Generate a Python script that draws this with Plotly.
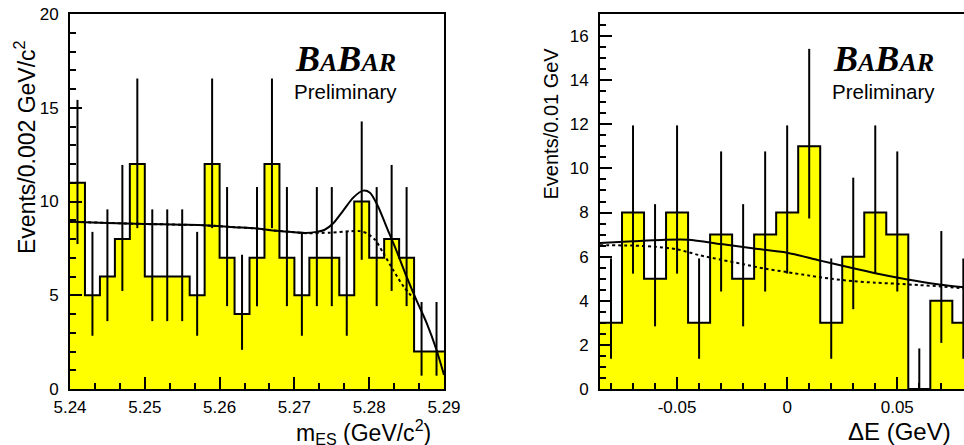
import plotly.graph_objects as go

# ---------------- data: left panel (m_ES) ----------------
mes_centers = [5.241, 5.243, 5.245, 5.247, 5.249, 5.251, 5.253, 5.255, 5.257, 5.259,
               5.261, 5.263, 5.265, 5.267, 5.269, 5.271, 5.273, 5.275, 5.277, 5.279,
               5.281, 5.283, 5.285, 5.287, 5.289]
mes_counts = [11, 5, 6, 8, 12, 6, 6, 6, 5, 12,
              7, 4, 7, 12, 7, 5, 7, 7, 5, 10,
              7, 8, 7, 2, 2]
mes_err_hi = [15.42, 8.38, 9.58, 11.95, 16.56, 9.58, 9.58, 9.58, 8.38, 16.56,
              10.77, 7.16, 10.77, 16.56, 10.77, 8.38, 10.77, 10.77, 8.38, 14.27,
              10.77, 11.95, 10.77, 4.64, 4.64]
mes_err_lo = [7.73, 2.84, 3.62, 5.23, 8.58, 3.62, 3.62, 3.62, 2.84, 8.58,
              4.42, 2.09, 4.42, 8.58, 4.42, 2.84, 4.42, 4.42, 2.84, 6.89,
              4.42, 5.23, 4.42, 0.71, 0.71]
mes_fit_x = [5.2400, 5.2450, 5.2500, 5.2550, 5.2580, 5.2620, 5.2647, 5.2676, 5.2700,
             5.2715, 5.2730, 5.2740, 5.2752, 5.2765, 5.2779, 5.2792, 5.2801, 5.2812,
             5.2823, 5.2837, 5.2850, 5.2863, 5.2877, 5.2890, 5.2900]
mes_fit_total = [8.92, 8.86, 8.80, 8.76, 8.73, 8.63, 8.57, 8.44, 8.36,
                 8.32, 8.38, 8.48, 8.84, 9.50, 10.22, 10.58, 10.47, 9.72,
                 8.66, 7.32, 5.99, 4.75, 3.50, 2.08, 0.75]
mes_bkg_x = [5.2400, 5.2450, 5.2500, 5.2550, 5.2580, 5.2620, 5.2647, 5.2676, 5.2700,
             5.2715, 5.2748, 5.2774, 5.2787, 5.2797, 5.2808, 5.2819, 5.2832, 5.2846, 5.2860]
mes_bkg = [8.92, 8.86, 8.80, 8.76, 8.73, 8.63, 8.57, 8.44, 8.36,
           8.31, 8.34, 8.41, 8.42, 8.30, 7.95, 7.24, 6.35, 5.46, 4.80]
mes_xticks = [5.24, 5.25, 5.26, 5.27, 5.28, 5.29]
mes_xtick_text = ["5.24", "5.25", "5.26", "5.27", "5.28", "5.29"]
mes_yticks = [0, 5, 10, 15, 20]
mes_ytick_text = ["0", "5", "10", "15", "20"]

# ---------------- data: right panel (Delta E) ----------------
de_centers = [-0.08, -0.07, -0.06, -0.05, -0.04, -0.03, -0.02, -0.01, 0.00,
              0.01, 0.02, 0.03, 0.04, 0.05, 0.06, 0.07, 0.08]
de_counts = [3, 8, 5, 8, 3, 7, 5, 7, 8, 11, 3, 6, 8, 7, 0, 4, 3]
de_err_hi = [5.92, 11.95, 8.38, 11.95, 5.92, 10.77, 8.38, 10.77, 11.95,
             15.42, 5.92, 9.58, 11.95, 10.77, 1.84, 7.16, 5.92]
de_err_lo = [1.37, 5.23, 2.84, 5.23, 1.37, 4.42, 2.84, 4.42, 5.23,
             7.73, 1.37, 3.62, 5.23, 4.42, 0.00, 2.09, 1.37]
de_fit_x = [-0.085, -0.070, -0.057, -0.045, -0.030, -0.015, 0.000, 0.015,
            0.030, 0.040, 0.054, 0.069, 0.0805]
de_fit_total = [6.62, 6.70, 6.76, 6.77, 6.57, 6.37, 6.18, 5.82,
                5.47, 5.25, 4.98, 4.74, 4.61]
de_bkg_x = [-0.085, -0.070, -0.060, -0.050, -0.040, -0.030, -0.020, -0.010, 0.000,
            0.010, 0.020, 0.030, 0.040, 0.050, 0.060, 0.070, 0.0805]
de_bkg = [6.52, 6.50, 6.45, 6.33, 6.07, 5.86, 5.66, 5.45, 5.30,
          5.14, 5.00, 4.89, 4.82, 4.77, 4.71, 4.65, 4.56]
de_xticks = [-0.05, 0.0, 0.05]
de_xtick_text = ["-0.05", "0", "0.05"]
de_yticks = [0, 2, 4, 6, 8, 10, 12, 14, 16]
de_ytick_text = ["0", "2", "4", "6", "8", "10", "12", "14", "16"]

W, H = 964, 445
FONT = "Liberation Sans, Arial, Helvetica, sans-serif"
YELLOW = "#ffff00"


def px_x(p):
    return p / W


def px_y(p):
    return 1 - p / H


fig = go.Figure()


def add_hist(centers, counts, hi, lo, width, xa, ya):
    fig.add_trace(go.Bar(x=centers, y=counts, width=width, xaxis=xa, yaxis=ya,
                         marker=dict(color=YELLOW, line=dict(width=0)),
                         showlegend=False, hoverinfo="skip"))
    edges = [c - width / 2 for c in centers] + [centers[-1] + width / 2]
    steps = list(counts) + [counts[-1]]
    fig.add_trace(go.Scatter(x=edges, y=steps, mode="lines", xaxis=xa, yaxis=ya,
                             line=dict(color="black", width=2, shape="hv"),
                             showlegend=False, hoverinfo="skip"))
    fig.add_trace(go.Scatter(x=centers, y=counts, mode="markers", xaxis=xa, yaxis=ya,
                             marker=dict(size=1, color="rgba(0,0,0,0)"),
                             error_y=dict(type="data", symmetric=False,
                                          array=[h - c for h, c in zip(hi, counts)],
                                          arrayminus=[c - l for l, c in zip(lo, counts)],
                                          width=0, thickness=2, color="black"),
                             showlegend=False, hoverinfo="skip"))


def add_curve(x, y, xa, ya, dash):
    fig.add_trace(go.Scatter(x=x, y=y, mode="lines", xaxis=xa, yaxis=ya,
                             line=dict(color="black", width=2, dash=dash, shape="spline",
                                       smoothing=0.8),
                             showlegend=False, hoverinfo="skip"))


add_hist(mes_centers, mes_counts, mes_err_hi, mes_err_lo, 0.002, "x", "y")
add_curve(mes_fit_x, mes_fit_total, "x", "y", "solid")
add_curve(mes_bkg_x, mes_bkg, "x", "y", "dot")

add_hist(de_centers, de_counts, de_err_hi, de_err_lo, 0.01, "x2", "y2")
add_curve(de_fit_x, de_fit_total, "x2", "y2", "solid")
add_curve(de_bkg_x, de_bkg, "x2", "y2", "dot")

ydom = [px_y(389), px_y(14)]
axis_common = dict(showgrid=False, zeroline=False, showline=True, linecolor="black",
                   linewidth=2, ticks="inside", ticklen=12, tickwidth=2, tickcolor="black",
                   tickfont=dict(family=FONT, size=17, color="black"),
                   ticklabelstandoff=6, automargin=False)

fig.update_layout(
    width=W, height=H,
    margin=dict(l=0, r=0, t=0, b=0, pad=0, autoexpand=False),
    paper_bgcolor="white", plot_bgcolor="white",
    barmode="overlay", bargap=0,
    xaxis=dict(axis_common, domain=[px_x(70), px_x(444)], range=[5.24, 5.29],
               anchor="y", mirror=True, tickmode="array", tickvals=mes_xticks,
               ticktext=mes_xtick_text, ticklabelstandoff=2,
               minor=dict(ticks="inside", ticklen=6, tickwidth=2, tickcolor="black",
                          tick0=5.24, dtick=0.01 / 3, showgrid=False)),
    yaxis=dict(axis_common, domain=ydom, range=[0, 20], anchor="x", mirror=True,
               tickmode="array", tickvals=mes_yticks, ticktext=mes_ytick_text,
               minor=dict(ticks="inside", ticklen=6, tickwidth=2, tickcolor="black",
                          tick0=0, dtick=1, showgrid=False)),
    xaxis2=dict(axis_common, domain=[px_x(600), 1.0], range=[-0.085, 0.0803],
                anchor="y2", mirror=True, tickmode="array", tickvals=de_xticks,
                ticktext=de_xtick_text, ticklabelstandoff=2,
                minor=dict(ticks="inside", ticklen=6, tickwidth=2, tickcolor="black",
                           tick0=0, dtick=0.01, showgrid=False)),
    yaxis2=dict(axis_common, domain=ydom, range=[0, 17], anchor="x2", mirror=False,
                tickmode="array", tickvals=de_yticks, ticktext=de_ytick_text,
                minor=dict(ticks="inside", ticklen=6, tickwidth=2, tickcolor="black",
                           tick0=0, dtick=0.5, showgrid=False)),
)

babar = ("<b><i>B<span style='font-size:26px'>A</span>B"
         "<span style='font-size:26px'>AR</span></i></b>")
ann = []
for cx in (345.5, 883):
    ann.append(dict(text=babar, x=px_x(cx), y=px_y(59), xref="paper", yref="paper",
                    xanchor="center", yanchor="middle", showarrow=False,
                    font=dict(family="Liberation Serif, Times New Roman, serif",
                              size=36, color="black")))
    ann.append(dict(text="Preliminary", x=px_x(cx), y=px_y(91.5), xref="paper",
                    yref="paper", xanchor="center", yanchor="middle", showarrow=False,
                    font=dict(family=FONT, size=20.5, color="black")))

ann.append(dict(text="Events/0.002 GeV/c<sup>2</sup>", x=px_x(25), y=px_y(147),
                xref="paper", yref="paper", xanchor="center", yanchor="middle",
                textangle=-90, showarrow=False,
                font=dict(family=FONT, size=23, color="black")))
ann.append(dict(text="Events/0.01 GeV", x=px_x(550), y=px_y(123.5),
                xref="paper", yref="paper", xanchor="center", yanchor="middle",
                textangle=-90, showarrow=False,
                font=dict(family=FONT, size=20, color="black")))
ann.append(dict(text="m<sub>ES</sub> (GeV/c<sup>2</sup>)", x=px_x(433), y=px_y(432),
                xref="paper", yref="paper", xanchor="right", yanchor="middle",
                showarrow=False, font=dict(family=FONT, size=23, color="black")))
ann.append(dict(text="ΔE (GeV)", x=px_x(953), y=px_y(431),
                xref="paper", yref="paper", xanchor="right", yanchor="middle",
                showarrow=False, font=dict(family=FONT, size=24, color="black")))
fig.update_layout(annotations=ann)

fig.write_html("out.html",
               config={"displayModeBar": False},
               post_script="document.body.style.margin='0px';"
                           "document.body.style.overflow='hidden';")
